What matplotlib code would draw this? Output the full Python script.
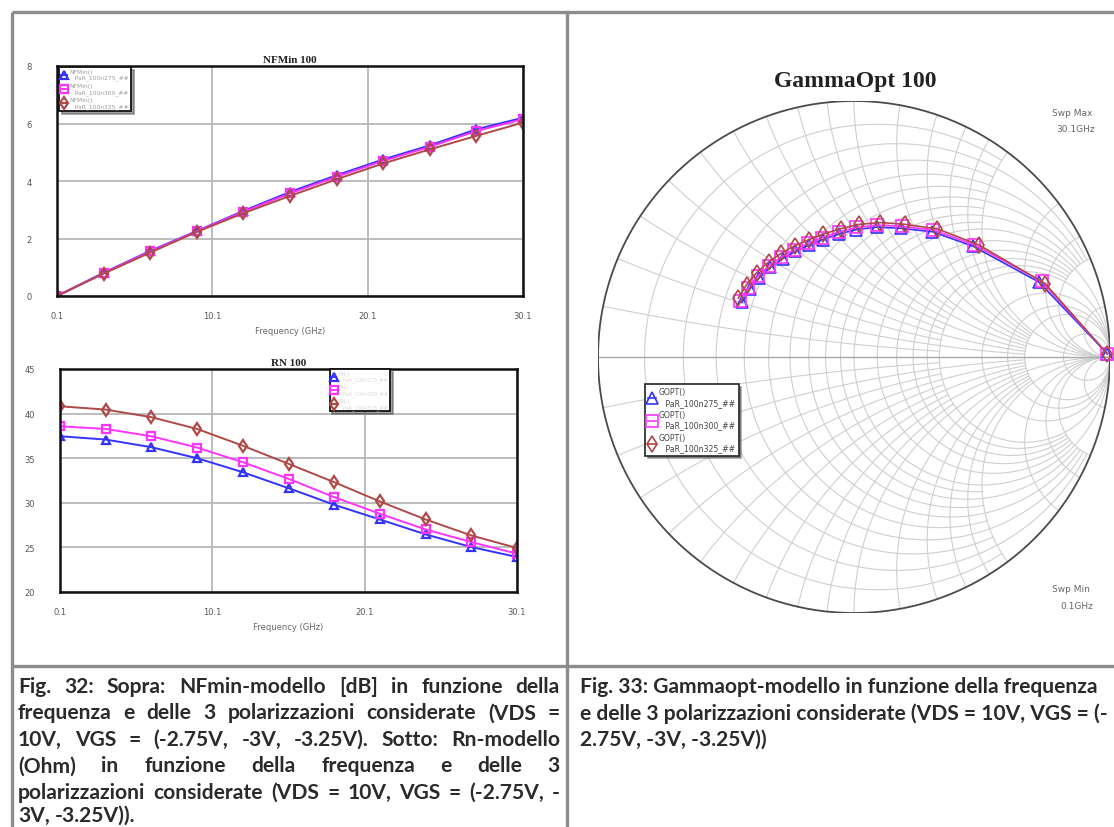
import numpy as np
import matplotlib
matplotlib.use('Agg')
import matplotlib.pyplot as plt

# --- dati ---
freq = [0.1, 3.1, 6.1, 9.1, 12.1, 15.1, 18.1, 21.1, 24.1, 27.1, 30.1]

nfmin_275 = [0.0, 0.81, 1.57, 2.26, 2.96, 3.62, 4.20, 4.75, 5.24, 5.80, 6.20]
nfmin_300 = [0.0, 0.80, 1.55, 2.25, 2.93, 3.57, 4.15, 4.70, 5.19, 5.74, 6.15]
nfmin_325 = [0.0, 0.78, 1.51, 2.23, 2.88, 3.48, 4.06, 4.61, 5.10, 5.57, 6.03]

rn_275 = [37.46, 37.09, 36.23, 35.00, 33.43, 31.64, 29.78, 28.13, 26.46, 25.04, 23.92]
rn_300 = [38.58, 38.28, 37.46, 36.19, 34.55, 32.69, 30.63, 28.77, 27.01, 25.60, 24.29]
rn_325 = [40.82, 40.45, 39.60, 38.28, 36.40, 34.37, 32.31, 30.15, 28.13, 26.34, 24.93]

freq_g = [0.1, 2.1, 4.1, 6.1, 8.1, 10.1, 12.1, 14.1, 16.1, 18.1, 20.1, 22.1, 24.1, 26.1, 28.1, 30.1]
g_ang_275 = [0.7, 22, 43, 58, 70, 80, 89, 97, 105, 112, 119, 126, 133, 140, 147, 154]
g_mag_275 = [0.99, 0.78, 0.635, 0.577, 0.535, 0.515, 0.498, 0.484, 0.475, 0.471, 0.472, 0.475, 0.479, 0.483, 0.486, 0.487]
g_ang_300 = [0.7, 22, 43, 58, 70, 80, 89, 97, 105, 112, 119, 126, 133, 140, 147, 154]
g_mag_300 = [0.99, 0.79, 0.643, 0.585, 0.543, 0.523, 0.506, 0.492, 0.483, 0.479, 0.480, 0.483, 0.487, 0.491, 0.494, 0.495]
g_ang_325 = [0.7, 21, 42, 57, 69, 79, 88, 96, 104, 111, 118, 125, 132, 139, 146, 153]
g_mag_325 = [0.99, 0.80, 0.655, 0.597, 0.555, 0.535, 0.518, 0.504, 0.495, 0.491, 0.492, 0.495, 0.499, 0.503, 0.506, 0.507]

bias_labels = ['100n275', '100n300', '100n325']
colors = ['#3333ff', '#ff33ff', '#b04848']
markers = ['^', 's', 'd']

caption_left = [
    'Fig. 32: Sopra: NFmin-modello [dB] in funzione della',
    'frequenza e delle 3 polarizzazioni considerate (VDS =',
    '10V, VGS = (-2.75V, -3V, -3.25V). Sotto: Rn-modello',
    '(Ohm) in funzione della frequenza e delle 3',
    'polarizzazioni considerate (VDS = 10V, VGS = (-2.75V, -',
    '3V, -3.25V)).',
]
caption_right = [
    'Fig. 33: Gammaopt-modello in funzione della frequenza',
    'e delle 3 polarizzazioni considerate (VDS = 10V, VGS = (-',
    '2.75V, -3V, -3.25V))',
]

W, H = 1114, 828
fig = plt.figure(figsize=(W / 100, H / 100), dpi=100)
fig.patch.set_facecolor('white')


def px_axes(x0, y0, x1, y1):
    return fig.add_axes([x0 / W, 1 - y1 / H, (x1 - x0) / W, (y1 - y0) / H])


# pagina: cornice della tabella e didascalie
page = fig.add_axes([0, 0, 1, 1])
page.set_xlim(0, W)
page.set_ylim(H, 0)
page.axis('off')
frame = dict(color='#8c8c8c', lw=2.4, solid_capstyle='butt')
page.plot([12, W], [13, 13], **frame)
page.plot([12, 12], [13, H], **frame)
page.plot([567, 567], [13, H], **frame)
page.plot([12, W], [667, 667], **frame)

cap_font = 'Lato'
renderer = fig.canvas.get_renderer()


def text_w(s, fs):
    t = page.text(0, 0, s, fontsize=fs, fontweight='bold', family=cap_font)
    w = t.get_window_extent(renderer).width
    t.remove()
    return w


cap_fs = min(10 * 528 / text_w(caption_right[0], 10),
             10 * 528 / text_w(caption_right[1], 10))
line_y = [687, 713.5, 740, 766.5, 793, 816]

for i, line in enumerate(caption_left):
    words = line.split(' ')
    ws = [text_w(w, cap_fs) for w in words]
    if i < len(caption_left) - 1:
        gap = (560 - 18 - sum(ws)) / (len(words) - 1)
    else:
        gap = text_w('a a', cap_fs) - 2 * text_w('a', cap_fs)
    x = 18
    for w, wd in zip(words, ws):
        page.text(x, line_y[i], w, fontsize=cap_fs, fontweight='bold',
                  family=cap_font, color='#2a2a2a', va='center')
        x += wd + gap

for i, line in enumerate(caption_right):
    page.text(580, line_y[i], line, fontsize=cap_fs, fontweight='bold',
              family=cap_font, color='#2a2a2a', va='center')


def awr_plot(ax, title, series, ylim, yticks, leg_anchor, leg_color, leg_name, leg_fs):
    for vals, c, m, b in zip(series, colors, markers, bias_labels):
        ax.plot(freq, vals, color=c, marker=m, ms=6, mfc='none', mew=1.6,
                lw=1.4, label=leg_name + '\n   PaR_' + b + '_##')
    ax.set_xlim(0.1, 30.1)
    ax.set_ylim(*ylim)
    ax.set_xticks([0.1, 10.1, 20.1, 30.1])
    ax.set_xticklabels(['0.1', '10.1', '20.1', '30.1'])
    ax.set_yticks(yticks)
    ax.grid(color='#b8b8b8', lw=1.3)
    ax.set_axisbelow(True)
    for s in ax.spines.values():
        s.set_linewidth(1.8)
        s.set_color('#111111')
    ax.tick_params(length=0, labelsize=6, labelcolor='#555555', pad=11)
    ax.tick_params(axis='y', pad=18)
    ax.set_xlabel('Frequency (GHz)', fontsize=6, color='#666666', labelpad=4)
    ax.set_title(title, fontsize=8, fontweight='bold', family='Liberation Serif',
                 color='#222222', pad=3)
    leg = ax.legend(loc='upper left', bbox_to_anchor=leg_anchor, borderaxespad=0,
                    fontsize=leg_fs, handlelength=1.0, handletextpad=0.4,
                    labelspacing=0.45, frameon=True, fancybox=False, shadow=True,
                    borderpad=0.35)
    leg.get_frame().set_edgecolor('#111111')
    leg.get_frame().set_linewidth(1.3)
    for t in leg.get_texts():
        t.set_color(leg_color)


ax1 = px_axes(57, 67, 523, 297)
awr_plot(ax1, 'NFMin 100', [nfmin_275, nfmin_300, nfmin_325], (0, 8),
         [0, 2, 4, 6, 8], (0.004, 0.996), '#9a9a9a', 'NFMin()', 4.3)

ax2 = px_axes(60, 370, 517, 593)
awr_plot(ax2, 'RN 100', [rn_275, rn_300, rn_325], (20, 45),
         [20, 25, 30, 35, 40, 45], (0.59, 1.0), '#d8d8d8', 'RN()', 3.6)

# carta di Smith
sm = px_axes(598, 102, 1110, 614)
sm.set_xlim(-1, 1)
sm.set_ylim(-1, 1)
sm.axis('off')


def z2g(z):
    return (z - 1) / (z + 1)


grid_kw = dict(color='#cfcfcf', lw=0.8, zorder=1)
r_grid = [(0.1, 2), (0.2, 5), (0.3, 2), (0.4, 5), (0.5, 2), (0.6, 5), (0.7, 2),
          (0.8, 5), (0.9, 2), (1.0, 1e4), (1.2, 5), (1.4, 5), (1.6, 5), (1.8, 5),
          (2.0, 1e4), (3, 1e4), (4, 1e4), (5, 1e4), (10, 1e4)]
for r, xmax in r_grid:
    x = np.tan(np.linspace(-np.arctan(xmax), np.arctan(xmax), 500))
    g = z2g(r + 1j * x)
    sm.plot(g.real, g.imag, **grid_kw)
for xv, rmax in r_grid:
    r = np.tan(np.linspace(0, np.arctan(rmax), 500))
    for s in (1, -1):
        g = z2g(r + 1j * s * xv)
        sm.plot(g.real, g.imag, **grid_kw)
sm.plot([-1, 1], [0, 0], color='#a8a8a8', lw=1.0, zorder=1)
th = np.linspace(0, 2 * np.pi, 600)
sm.plot(np.cos(th), np.sin(th), color='#4a4a4a', lw=1.3, zorder=2)

for mag, ang, c, m, b in zip([g_mag_275, g_mag_300, g_mag_325],
                             [g_ang_275, g_ang_300, g_ang_325],
                             colors, markers, bias_labels):
    a = np.radians(ang)
    gx = np.array(mag) * np.cos(a)
    gy = np.array(mag) * np.sin(a)
    sm.plot(gx, gy, color=c, marker=m, ms=8, mfc='none', mew=1.2, lw=1.2,
            clip_on=False, zorder=3, label='GOPT()\n   PaR_' + b + '_##')

leg = sm.legend(loc='upper left', bbox_to_anchor=(0.092, 0.447), borderaxespad=0,
                fontsize=5.6, handlelength=1.0, handletextpad=0.3, labelspacing=0.45,
                frameon=True, fancybox=False, shadow=True, borderpad=0.4)
leg.get_frame().set_edgecolor('#222222')
leg.get_frame().set_linewidth(1.2)
for t in leg.get_texts():
    t.set_color('#444444')

page.text(855, 82, 'GammaOpt 100', fontsize=17, fontweight='bold',
          family='Liberation Serif', color='#222222', ha='center', va='center')
page.text(1052, 113, 'Swp Max', fontsize=6.5, color='#666666', va='center')
page.text(1056, 130, '30.1GHz', fontsize=6.5, color='#666666', va='center')
page.text(1052, 590, 'Swp Min', fontsize=6.5, color='#666666', va='center')
page.text(1060, 607, '0.1GHz', fontsize=6.5, color='#666666', va='center')

fig.savefig('out.png', dpi=100, facecolor='white')
